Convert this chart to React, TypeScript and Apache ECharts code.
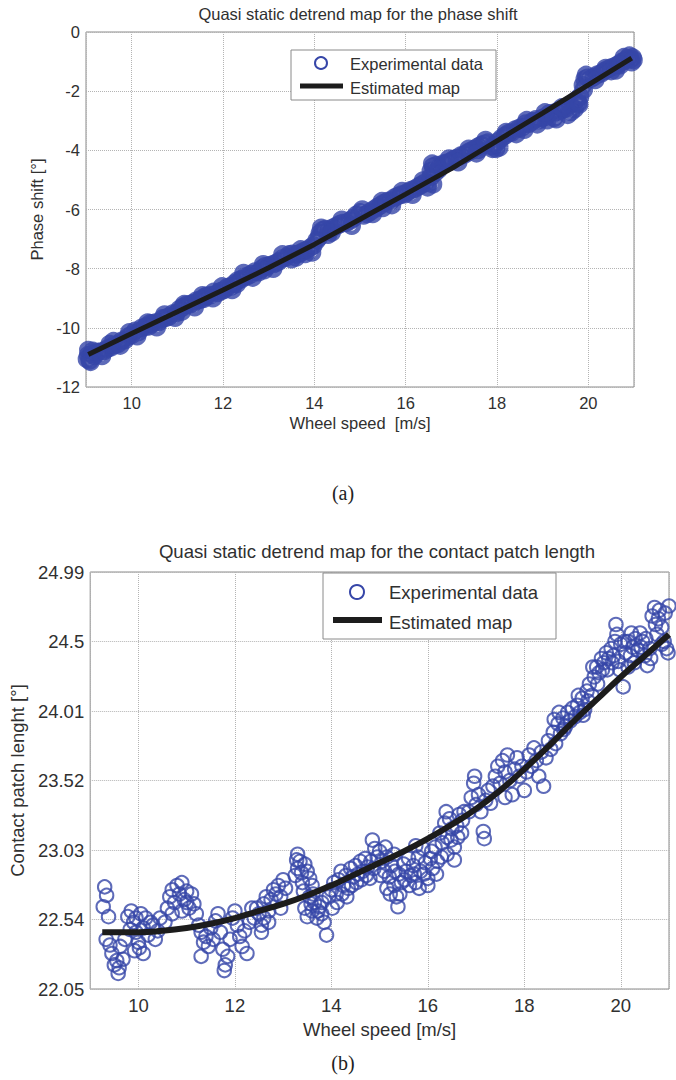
import React, { useEffect, useRef } from 'react';
import * as echarts from 'echarts';

// ---------- data ----------
const speedRange = [9, 21];
const phaseTicks = [-12, -10, -8, -6, -4, -2, 0];
const lengthTicks = [22.05, 22.54, 23.03, 23.52, 24.01, 24.5, 24.99];

const phaseData: [number, number][] = [
  [9.02, -11.05], [9.05, -10.92], [9.08, -11.1], [9.12, -10.88], [9.18, -10.95], [9.25, -10.82], [9.32, -10.8],
  [9.4, -10.78], [9.47, -10.7], [9.55, -10.66], [9.62, -10.58], [9.7, -10.55], [9.78, -10.44], [9.85, -10.42],
  [9.92, -10.3], [10.0, -10.24], [10.08, -10.1], [10.15, -10.14], [10.22, -10.0], [10.3, -9.96], [10.38, -9.95],
  [10.45, -9.86], [10.52, -9.82], [10.6, -9.8], [10.68, -9.68], [10.75, -9.66], [10.82, -9.62], [10.9, -9.52],
  [10.98, -9.5], [11.05, -9.36], [11.12, -9.3], [11.2, -9.22], [11.28, -9.2], [11.35, -9.16], [11.42, -9.08],
  [11.5, -9.05], [11.58, -9.02], [11.65, -8.92], [11.72, -8.9], [11.8, -8.78], [11.88, -8.82], [11.95, -8.76],
  [12.02, -8.72], [12.1, -8.62], [12.18, -8.6], [12.25, -8.5], [12.32, -8.4], [12.4, -8.36], [12.48, -8.28],
  [12.55, -8.24], [12.62, -8.18], [12.7, -8.1], [12.78, -8.12], [12.85, -8.0], [12.92, -7.92], [13.0, -7.9],
  [13.08, -7.86], [13.15, -7.82], [13.22, -7.76], [13.3, -7.66], [13.38, -7.62], [13.45, -7.52], [13.52, -7.5],
  [13.6, -7.52], [13.68, -7.48], [13.75, -7.42], [13.82, -7.38], [13.9, -7.3], [13.98, -7.22], [14.05, -7.05],
  [14.12, -6.8], [14.18, -6.7], [14.25, -6.66], [14.32, -6.7], [14.4, -6.62], [14.48, -6.56], [14.55, -6.5],
  [14.62, -6.46], [14.7, -6.45], [14.78, -6.38], [14.85, -6.3], [14.92, -6.18], [15.0, -6.1], [15.08, -6.2],
  [15.15, -6.15], [15.22, -6.08], [15.3, -6.0], [15.38, -5.92], [15.45, -5.86], [15.52, -5.78], [15.6, -5.72],
  [15.68, -5.7], [15.75, -5.6], [15.82, -5.55], [15.9, -5.5], [15.98, -5.48], [16.05, -5.4], [16.12, -5.34],
  [16.2, -5.3], [16.28, -5.22], [16.35, -5.16], [16.42, -5.1], [16.5, -5.1], [16.55, -4.7], [16.6, -4.55],
  [16.68, -4.5], [16.75, -4.55], [16.82, -4.45], [16.9, -4.42], [16.98, -4.38], [17.05, -4.3], [17.12, -4.26],
  [17.2, -4.18], [17.28, -4.15], [17.35, -4.08], [17.42, -4.02], [17.5, -3.96], [17.58, -3.88], [17.65, -3.82],
  [17.72, -3.78], [17.8, -3.74], [17.88, -3.86], [17.95, -3.82], [18.02, -3.7], [18.1, -3.58], [18.18, -3.5],
  [18.25, -3.42], [18.32, -3.4], [18.4, -3.3], [18.48, -3.25], [18.55, -3.22], [18.62, -3.1], [18.7, -3.1],
  [18.78, -3.02], [18.85, -2.95], [18.92, -2.98], [19.0, -2.9], [19.08, -2.86], [19.15, -2.75], [19.22, -2.76],
  [19.3, -2.7], [19.38, -2.66], [19.45, -2.62], [19.52, -2.58], [19.6, -2.46], [19.68, -2.4], [19.75, -2.28],
  [19.82, -2.18], [19.88, -1.8], [19.92, -1.6], [19.98, -1.55], [20.05, -1.58], [20.12, -1.52], [20.2, -1.44],
  [20.28, -1.4], [20.35, -1.32], [20.42, -1.26], [20.5, -1.2], [20.58, -1.16], [20.65, -1.1], [20.72, -1.02],
  [20.8, -0.96], [20.86, -0.9], [20.92, -0.92], [20.97, -0.86],
  [9.05, -10.75], [9.1, -11.15], [9.6, -10.45], [10.4, -9.85], [11.1, -9.45], [11.6, -8.95], [12.3, -8.52],
  [12.9, -8.05], [13.6, -7.62], [13.8, -7.5], [14.1, -6.95], [14.3, -6.85], [15.5, -5.95], [16.55, -4.9],
  [16.6, -5.15], [16.65, -4.75], [17.6, -3.98], [17.9, -3.95], [18.05, -3.9], [18.6, -3.3], [19.1, -2.98],
  [19.3, -2.95], [19.55, -2.8], [19.7, -2.6], [19.8, -2.45], [19.9, -1.95], [20.5, -1.32], [20.9, -0.8],
  [20.95, -1.02],
  [9.15, -10.78], [9.35, -10.95], [9.52, -10.55], [9.75, -10.6], [9.95, -10.15], [10.12, -10.28], [10.35, -9.82],
  [10.55, -9.98], [10.72, -9.55], [10.95, -9.66], [11.15, -9.2], [11.38, -9.3], [11.55, -8.9], [11.78, -9.0],
  [11.98, -8.6], [12.2, -8.72], [12.45, -8.15], [12.65, -8.3], [12.88, -7.85], [13.1, -8.0], [13.3, -7.52],
  [13.5, -7.68], [13.7, -7.35], [13.95, -7.45], [14.15, -6.62], [14.38, -6.78], [14.6, -6.35], [14.82, -6.55],
  [15.05, -6.0], [15.28, -6.15], [15.48, -5.72], [15.7, -5.85], [15.92, -5.38], [16.15, -5.5], [16.38, -5.02],
  [16.48, -5.25], [16.58, -4.45], [16.72, -4.65], [16.95, -4.28], [17.15, -4.4], [17.38, -3.95], [17.55, -4.1],
  [17.75, -3.65], [17.98, -3.95], [18.2, -3.38], [18.42, -3.45], [18.65, -2.98], [18.88, -3.12], [19.05, -2.72],
  [19.25, -2.9], [19.42, -2.55], [19.62, -2.7], [19.78, -2.4], [19.95, -1.45], [20.15, -1.62], [20.38, -1.22],
  [20.6, -1.3], [20.78, -0.85], [20.99, -0.95], [20.7, -1.12],
];

const phaseMap: [number, number][] = [
  [9.05, -10.9], [10, -10.19], [11, -9.46], [12, -8.72], [13, -7.97], [14, -7.18], [15, -6.33],
  [16, -5.48], [17, -4.62], [18, -3.68], [19, -2.74], [20, -1.79], [20.95, -0.88],
];

const lengthData: [number, number][] = [
  [9.3, 22.77], [9.34, 22.71], [9.27, 22.63], [9.38, 22.56], [9.33, 22.4], [9.45, 22.3], [9.55, 22.25],
  [9.58, 22.16], [9.6, 22.2], [9.68, 22.26], [9.62, 22.35], [9.72, 22.4], [9.5, 22.22], [9.41, 22.36],
  [9.78, 22.56], [9.85, 22.6], [9.9, 22.52], [9.95, 22.45], [9.83, 22.47], [10.0, 22.38], [10.02, 22.34],
  [10.05, 22.58], [10.1, 22.48], [10.15, 22.55], [10.2, 22.43], [10.25, 22.52], [10.3, 22.5], [10.35, 22.4],
  [10.4, 22.46], [9.92, 22.32], [10.1, 22.3],
  [10.6, 22.62], [10.65, 22.7], [10.7, 22.75], [10.75, 22.66], [10.8, 22.78], [10.85, 22.72], [10.9, 22.8],
  [10.95, 22.68], [11.0, 22.74], [11.05, 22.62], [11.1, 22.72], [11.15, 22.65], [11.2, 22.58], [10.55, 22.52],
  [10.7, 22.58], [10.9, 22.6],
  [11.3, 22.45], [11.35, 22.38], [11.3, 22.28], [11.4, 22.42], [11.45, 22.35], [11.5, 22.48], [11.55, 22.4],
  [11.6, 22.53], [11.65, 22.58], [11.7, 22.45], [11.75, 22.33], [11.8, 22.22], [11.85, 22.28], [11.9, 22.4],
  [11.95, 22.55], [12.0, 22.6], [12.05, 22.5], [12.1, 22.42], [12.15, 22.35], [12.2, 22.46], [12.25, 22.3],
  [12.3, 22.52], [11.78, 22.18],
  [12.4, 22.55], [12.45, 22.62], [12.5, 22.58], [12.55, 22.5], [12.6, 22.65], [12.65, 22.7], [12.7, 22.6],
  [12.75, 22.68], [12.8, 22.75], [12.85, 22.72], [12.9, 22.78], [12.95, 22.7], [13.0, 22.82], [13.05, 22.76],
  [12.55, 22.45], [12.7, 22.52],
  [13.3, 23.0], [13.35, 22.95], [13.3, 22.9], [13.45, 22.93], [13.5, 22.88], [13.55, 22.83], [13.4, 22.8],
  [13.6, 22.78], [13.45, 22.62], [13.5, 22.56], [13.6, 22.6], [13.65, 22.66], [13.7, 22.55], [13.75, 22.63],
  [13.8, 22.58], [13.85, 22.52], [13.9, 22.43], [13.25, 22.85], [13.55, 22.7], [13.8, 22.66],
  [14.0, 22.75], [14.05, 22.8], [14.1, 22.72], [14.15, 22.82], [14.2, 22.88], [14.25, 22.78], [14.3, 22.85],
  [14.35, 22.76], [14.4, 22.9], [14.45, 22.84], [14.5, 22.92], [14.55, 22.86], [14.6, 22.95], [14.65, 22.88],
  [14.7, 22.97], [14.75, 22.91], [14.85, 23.1], [14.9, 23.04], [14.95, 22.98], [14.8, 22.83],
  [15.0, 23.02], [15.05, 22.95], [15.1, 22.88], [15.15, 22.98], [15.2, 22.84], [15.25, 22.92], [15.3, 22.78],
  [15.35, 22.7], [15.38, 22.63], [15.4, 22.86], [15.45, 22.8], [15.5, 22.93], [15.55, 22.88], [15.6, 22.97],
  [15.3, 23.0], [15.15, 22.76],
  [15.65, 22.85], [15.7, 22.92], [15.75, 22.8], [15.8, 22.98], [15.85, 22.88], [15.9, 23.04], [15.95, 22.94],
  [16.0, 22.83], [16.05, 22.97], [16.1, 22.9], [16.15, 23.05], [16.2, 22.95], [15.75, 23.06], [16.0, 22.78],
  [16.25, 23.15], [16.3, 23.08], [16.35, 23.22], [16.4, 23.12], [16.45, 23.25], [16.5, 23.18], [16.55, 23.05],
  [16.6, 23.2], [16.65, 23.28], [16.7, 23.15], [16.75, 23.3], [16.4, 23.0], [16.55, 22.96],
  [16.85, 23.3], [16.9, 23.4], [16.95, 23.5], [16.97, 23.55], [17.0, 23.35], [17.05, 23.42], [17.1, 23.3],
  [17.15, 23.16], [17.17, 23.11], [17.2, 23.38], [17.25, 23.45], [17.3, 23.36],
  [17.35, 23.48], [17.4, 23.55], [17.45, 23.62], [17.5, 23.5], [17.55, 23.66], [17.6, 23.58], [17.65, 23.7],
  [17.7, 23.52], [17.75, 23.42], [17.8, 23.6], [17.85, 23.68], [17.9, 23.55], [17.95, 23.62], [18.0, 23.45],
  [17.6, 23.4],
  [18.05, 23.58], [18.1, 23.7], [18.15, 23.62], [18.2, 23.75], [18.25, 23.66], [18.3, 23.55], [18.35, 23.72],
  [18.4, 23.48], [18.45, 23.68], [18.5, 23.8], [18.55, 23.74], [18.6, 23.86], [18.65, 23.78], [18.7, 23.92],
  [18.75, 23.85], [18.8, 23.96],
  [18.85, 23.9], [18.9, 24.0], [18.95, 23.94], [19.0, 24.03], [19.05, 23.97], [19.1, 24.05], [19.15, 24.0],
  [19.2, 24.1], [19.25, 24.02], [19.3, 24.15], [19.35, 24.2], [19.4, 24.12], [19.45, 24.25], [19.5, 24.32],
  [19.55, 24.28], [19.6, 24.38],
  [19.65, 24.35], [19.7, 24.42], [19.75, 24.38], [19.8, 24.45], [19.85, 24.4], [19.9, 24.62], [19.92, 24.55],
  [19.95, 24.36], [20.0, 24.48], [20.05, 24.18], [20.1, 24.42], [20.15, 24.5], [20.2, 24.4], [20.25, 24.46],
  [20.3, 24.52], [20.15, 24.32],
  [20.35, 24.44], [20.4, 24.56], [20.45, 24.5], [20.5, 24.4], [20.55, 24.33], [20.6, 24.45], [20.65, 24.68],
  [20.7, 24.74], [20.72, 24.62], [20.75, 24.55], [20.8, 24.72], [20.85, 24.6], [20.9, 24.5], [20.95, 24.45],
  [21.0, 24.75], [20.98, 24.42], [20.85, 24.48],
  [13.28, 22.96], [13.38, 22.87], [13.42, 22.74], [13.58, 22.65], [13.62, 22.72], [13.72, 22.6], [13.95, 22.7],
  [14.02, 22.62], [14.12, 22.66], [14.22, 22.72], [14.32, 22.7], [14.42, 22.78], [14.52, 22.8], [14.62, 22.82],
  [14.72, 22.85], [14.82, 22.95], [14.88, 22.9], [15.02, 22.85], [15.12, 23.05], [15.22, 22.72], [15.32, 22.88],
  [15.42, 22.72], [15.52, 22.82], [15.62, 22.78], [15.72, 22.86], [15.82, 22.76], [15.92, 22.86], [16.08, 23.02],
  [16.18, 22.86], [16.28, 22.98], [16.38, 23.3], [16.48, 23.1], [16.62, 23.12], [16.72, 23.24],
  [18.62, 23.95], [18.72, 24.0], [18.82, 23.88], [19.12, 24.12], [19.22, 23.98], [19.32, 24.08], [19.42, 24.32],
  [19.52, 24.2], [19.62, 24.3], [19.72, 24.3], [19.82, 24.35], [19.88, 24.5], [19.98, 24.3], [20.08, 24.5],
  [20.22, 24.56], [20.28, 24.35], [20.42, 24.46], [20.52, 24.52], [20.62, 24.38], [20.78, 24.66], [20.92, 24.7],
  [9.95, 22.55], [10.45, 22.55], [11.0, 22.66], [11.25, 22.5], [12.35, 22.62], [12.6, 22.55], [12.95, 22.62],
];

const lengthMap: [number, number][] = [
  [9.25, 22.45], [9.5, 22.45], [10, 22.45], [10.5, 22.46], [11, 22.48], [11.5, 22.51], [12, 22.55],
  [12.5, 22.6], [13, 22.65], [13.5, 22.71], [14, 22.78], [14.5, 22.86], [15, 22.94], [15.5, 23.02],
  [16, 23.11], [16.5, 23.21], [17, 23.32], [17.5, 23.45], [18, 23.6], [18.5, 23.76], [19, 23.93],
  [19.5, 24.09], [20, 24.25], [20.5, 24.4], [21, 24.55],
];

const titles = [
  'Quasi static detrend map for the phase shift',
  'Quasi static detrend map for the contact patch length',
];
const legendNames = ['Experimental data', 'Estimated map'];

// ---------- style ----------
const FONT = 'Liberation Sans, Arial, sans-serif';
const TEXT = '#303030';
const BLUE = '#3646a8';
const BLACK = '#1c1c1c';
const GRIDLINE = { show: true, lineStyle: { color: '#b4b4b4', type: 'dotted' as const, width: 1 } };

function fmtLen(v: number) {
  let best = lengthTicks[0];
  for (const t of lengthTicks) if (Math.abs(t - v) < Math.abs(best - v)) best = t;
  return String(best);
}

export default function App() {
  const ref = useRef<HTMLDivElement>(null);
  useEffect(() => {
    document.body.style.margin = '0';
    const chart = echarts.init(ref.current!, null, { renderer: 'svg' });
    const option: any = {
      animation: false,
      backgroundColor: '#ffffff',
      title: [
        {
          text: titles[0], left: 358, top: 5, textAlign: 'center', padding: 0,
          textStyle: { fontFamily: FONT, fontSize: 16.5, fontWeight: 'normal', color: TEXT },
        },
        {
          text: titles[1], left: 377, top: 542, textAlign: 'center', padding: 0,
          textStyle: { fontFamily: FONT, fontSize: 18.6, fontWeight: 'normal', color: TEXT },
        },
      ],
      grid: [
        { left: 86, top: 32, width: 548, height: 355, show: true, borderColor: '#8a8a8a', borderWidth: 1, backgroundColor: '#fff' },
        { left: 89, top: 572, width: 580, height: 417, show: true, borderColor: '#8a8a8a', borderWidth: 1, backgroundColor: '#fff' },
      ],
      xAxis: [
        {
          gridIndex: 0, type: 'value', min: speedRange[0], max: speedRange[1], splitNumber: 6,
          name: 'Wheel speed  [m/s]', nameLocation: 'middle', nameGap: 27,
          nameTextStyle: { fontFamily: FONT, fontSize: 16.5, color: TEXT },
          axisLine: { show: false }, axisTick: { show: false },
          axisLabel: { fontFamily: FONT, fontSize: 16.5, color: TEXT, margin: 7, showMinLabel: false, showMaxLabel: false },
          splitLine: GRIDLINE,
        },
        {
          gridIndex: 1, type: 'value', min: speedRange[0], max: speedRange[1], splitNumber: 6,
          name: 'Wheel speed [m/s]', nameLocation: 'middle', nameGap: 31,
          nameTextStyle: { fontFamily: FONT, fontSize: 18.5, color: TEXT },
          axisLine: { show: false }, axisTick: { show: false },
          axisLabel: { fontFamily: FONT, fontSize: 18.5, color: TEXT, margin: 7, showMinLabel: false, showMaxLabel: false },
          splitLine: GRIDLINE,
        },
      ],
      yAxis: [
        {
          gridIndex: 0, type: 'value', min: phaseTicks[0], max: phaseTicks[phaseTicks.length - 1], interval: 2,
          name: 'Phase shift [°]', nameLocation: 'middle', nameGap: 37,
          nameTextStyle: { fontFamily: FONT, fontSize: 16.5, color: TEXT },
          axisLine: { show: false }, axisTick: { show: false },
          axisLabel: { fontFamily: FONT, fontSize: 16.5, color: TEXT, margin: 6 },
          splitLine: GRIDLINE,
        },
        {
          gridIndex: 1, type: 'value', min: lengthTicks[0], max: lengthTicks[lengthTicks.length - 1], interval: 0.49,
          name: 'Contact patch lenght [°]', nameLocation: 'middle', nameGap: 62,
          nameTextStyle: { fontFamily: FONT, fontSize: 18.5, color: TEXT },
          axisLine: { show: false }, axisTick: { show: false },
          axisLabel: { fontFamily: FONT, fontSize: 18.5, color: TEXT, margin: 6, formatter: (v: number) => fmtLen(v) },
          splitLine: GRIDLINE,
        },
      ],
      series: [
        {
          type: 'scatter', name: legendNames[0], xAxisIndex: 0, yAxisIndex: 0, data: phaseData,
          symbol: 'circle', symbolSize: 14, z: 2,
          itemStyle: { color: 'rgba(0,0,0,0)', borderColor: BLUE, borderWidth: 4.5 },
        },
        {
          type: 'line', name: legendNames[1], xAxisIndex: 0, yAxisIndex: 0, data: phaseMap,
          showSymbol: false, symbol: 'none', z: 3, lineStyle: { color: BLACK, width: 5 },
        },
        {
          type: 'scatter', name: legendNames[0], xAxisIndex: 1, yAxisIndex: 1, data: lengthData,
          symbol: 'circle', symbolSize: 13.5, z: 2,
          itemStyle: { color: 'rgba(0,0,0,0)', borderColor: BLUE, borderWidth: 2 },
        },
        {
          type: 'line', name: legendNames[1], xAxisIndex: 1, yAxisIndex: 1, data: lengthMap,
          showSymbol: false, symbol: 'none', smooth: true, z: 3, lineStyle: { color: BLACK, width: 6 },
        },
      ],
      graphic: [
        // legend (a)
        { type: 'rect', z: 100, shape: { x: 291, y: 50, width: 205, height: 50 }, style: { fill: '#fff', stroke: '#8a8a8a', lineWidth: 1 } },
        { type: 'circle', z: 101, shape: { cx: 321, cy: 63, r: 6 }, style: { fill: 'none', stroke: BLUE, lineWidth: 2 } },
        { type: 'line', z: 101, shape: { x1: 300, y1: 86, x2: 343, y2: 86 }, style: { stroke: BLACK, lineWidth: 5 } },
        { type: 'text', z: 101, x: 350, y: 64, style: { text: legendNames[0], fill: TEXT, fontFamily: FONT, fontSize: 16.5, verticalAlign: 'middle', align: 'left' } },
        { type: 'text', z: 101, x: 350, y: 88, style: { text: legendNames[1], fill: TEXT, fontFamily: FONT, fontSize: 16.5, verticalAlign: 'middle', align: 'left' } },
        // legend (b)
        { type: 'rect', z: 100, shape: { x: 323, y: 573, width: 233, height: 66 }, style: { fill: '#fff', stroke: '#8a8a8a', lineWidth: 1 } },
        { type: 'circle', z: 101, shape: { cx: 357, cy: 592, r: 7 }, style: { fill: 'none', stroke: BLUE, lineWidth: 2 } },
        { type: 'line', z: 101, shape: { x1: 333, y1: 620, x2: 382, y2: 620 }, style: { stroke: BLACK, lineWidth: 6 } },
        { type: 'text', z: 101, x: 389, y: 592, style: { text: legendNames[0], fill: TEXT, fontFamily: FONT, fontSize: 18.5, verticalAlign: 'middle', align: 'left' } },
        { type: 'text', z: 101, x: 389, y: 622, style: { text: legendNames[1], fill: TEXT, fontFamily: FONT, fontSize: 18.5, verticalAlign: 'middle', align: 'left' } },
        // captions
        { type: 'text', z: 101, x: 343, y: 493, style: { text: '(a)', fill: '#222', fontFamily: 'Liberation Serif, serif', fontSize: 20, verticalAlign: 'middle', align: 'center' } },
        { type: 'text', z: 101, x: 343, y: 1063, style: { text: '(b)', fill: '#222', fontFamily: 'Liberation Serif, serif', fontSize: 20, verticalAlign: 'middle', align: 'center' } },
      ],
    };
    chart.setOption(option);
    return () => chart.dispose();
  }, []);
  return <div ref={ref} style={{ width: 676, height: 1080, background: '#fff' }} />;
}
